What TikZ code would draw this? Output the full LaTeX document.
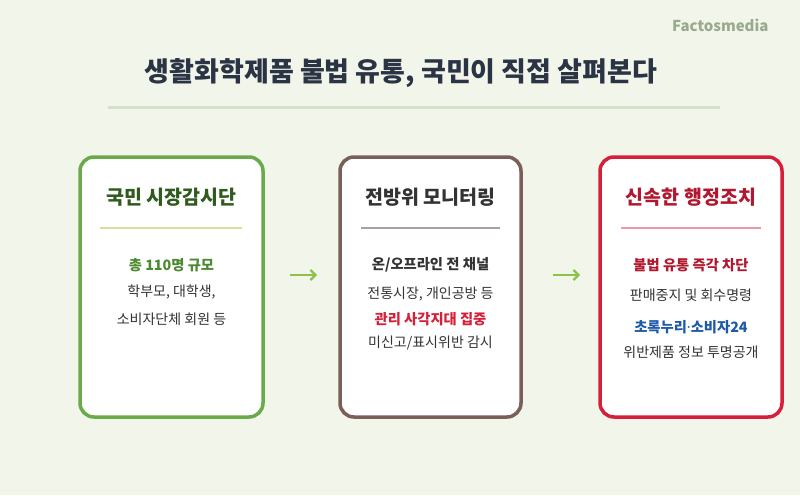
\documentclass[tikz,border=0pt]{standalone}
\usepackage{fontspec}
\setmainfont{Noto Sans CJK KR}
\newfontfamily\latinf{Noto Sans}
\usetikzlibrary{arrows.meta}
\definecolor{bg}{HTML}{F2F6EA}
\definecolor{brand}{HTML}{9AAA8E}
\definecolor{titlec}{HTML}{2A3444}
\definecolor{rulec}{HTML}{D5E0CC}
\definecolor{gborder}{HTML}{6AAA4A}
\definecolor{bborder}{HTML}{7A5E58}
\definecolor{rborder}{HTML}{D6203A}
\definecolor{gtitle}{HTML}{2F5B1E}
\definecolor{btitle}{HTML}{333333}
\definecolor{rtitle}{HTML}{B0182F}
\definecolor{gsep}{HTML}{D4E39A}
\definecolor{bsep}{HTML}{A8A0A0}
\definecolor{rsep}{HTML}{E89AA5}
\definecolor{ghl}{HTML}{4C8A30}
\definecolor{rhl}{HTML}{D6203A}
\definecolor{blhl}{HTML}{1E5AA8}
\definecolor{bodyc}{HTML}{333333}
\definecolor{arrowc}{HTML}{8BC34A}
\tikzset{
  card/.style={draw=#1, line width=3.5pt, fill=white, rounded corners=14pt},
  cardtitle/.style={font=\fontsize{19.5}{22}\selectfont\bfseries, text=#1, anchor=center},
  sepline/.style={draw=#1, line width=2pt},
  hl/.style={font=\fontsize{14.3}{17}\selectfont\bfseries, text=#1, anchor=center},
  bodyt/.style={font=\fontsize{14}{17}\selectfont, text=bodyc, anchor=center},
  flow/.style={draw=arrowc, line width=2.2pt, -{Straight Barb[length=5pt,width=10pt]}}
}
\begin{document}
\begin{tikzpicture}[x=1pt,y=-1pt]
\fill[bg] (0,0) rectangle (800,495);
\useasboundingbox (0,0) rectangle (800,495);
\node[font=\fontsize{15}{18}\selectfont\bfseries, text=brand, anchor=east] (brand) at (772,25) {Factosmedia};
\node[font=\fontsize{27}{31}\selectfont\bfseries, text=titlec] (title) at (401,73) {생활화학제품 불법 유통, 국민이 직접 살펴본다};
\coordinate (hrA) at (108,107);
\coordinate (hrB) at (720,107);
\draw[draw=rulec, line width=3pt] (hrA) -- (hrB);
% cards
\node[card=gborder, minimum width=183pt, minimum height=260pt, inner sep=0pt] (c1) at (171.5,287) {};
\node[card=bborder, minimum width=181pt, minimum height=260pt, inner sep=0pt] (c2) at (430.5,287) {};
\node[card=rborder, minimum width=182pt, minimum height=260pt, inner sep=0pt] (c3) at (691,287) {};
% card 1
\node[cardtitle=gtitle] (t1) at (171.5,197) {국민 시장감시단};
\draw[sepline=gsep] (100,228) -- (242,228);
\node[hl=ghl] (a1) at (171.5,265) {총 110명 규모};
\node[bodyt] (b1) at (171.5,292) {학부모, 대학생,};
\node[bodyt] (b2) at (171.5,319) {소비자단체 회원 등};
% card 2
\node[cardtitle=btitle] (t2) at (430.5,197) {전방위 모니터링};
\draw[sepline=bsep] (361,228) -- (500,228);
\node[hl=btitle] (a2) at (430.5,265) {온/오프라인 전 채널};
\node[bodyt] (b3) at (430.5,294) {전통시장, 개인공방 등};
\node[hl=rhl] (b4) at (430.5,319) {관리 사각지대 집중};
\node[bodyt] (b5) at (430.5,343) {미신고/표시위반 감시};
% card 3
\node[cardtitle=rtitle] (t3) at (691,197) {신속한 행정조치};
\draw[sepline=rsep] (621,228) -- (761,228);
\node[hl=rtitle] (a3) at (691,265) {불법 유통 즉각 차단};
\node[bodyt] (b6) at (691,295) {판매중지 및 회수명령};
\node[hl=blhl] (b7) at (691,327) {초록누리{\latinf\bfseries ·}소비자24};
\node[bodyt] (b8) at (691,352) {위반제품 정보 투명공개};
% arrows
\coordinate (f1s) at (290,275);
\coordinate (f1e) at (317,275);
\coordinate (f2s) at (553,275);
\coordinate (f2e) at (580,275);
\draw[flow] (f1s) -- (f1e);
\draw[flow] (f2s) -- (f2e);
\end{tikzpicture}
\end{document}
